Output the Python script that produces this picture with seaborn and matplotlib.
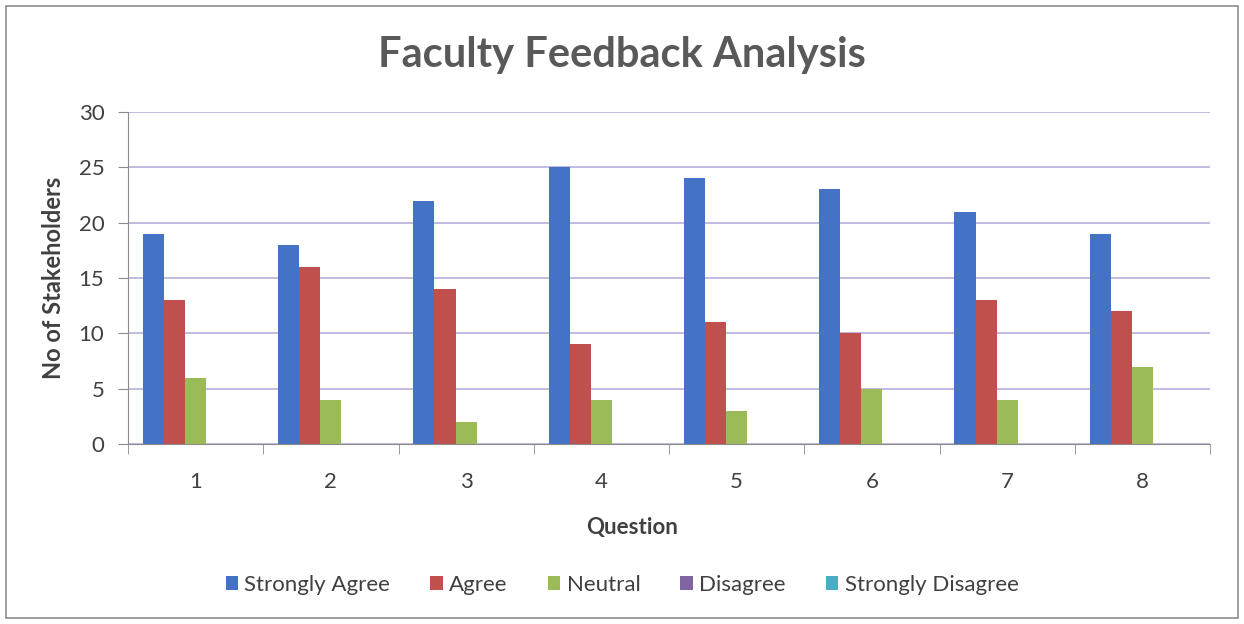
import matplotlib.pyplot as plt
import seaborn as sns
import pandas as pd
import numpy as np

questions = ['1', '2', '3', '4', '5', '6', '7', '8']
strongly_agree = [19, 18, 22, 25, 24, 23, 21, 19]
agree = [13, 16, 14, 9, 11, 10, 13, 12]
neutral = [6, 4, 2, 4, 3, 5, 4, 7]
disagree = [0, 0, 0, 0, 0, 0, 0, 0]
strongly_disagree = [0, 0, 0, 0, 0, 0, 0, 0]

series = ['Strongly Agree', 'Agree', 'Neutral', 'Disagree', 'Strongly Disagree']
colors = ['#4472C4', '#C0504D', '#9BBB59', '#8064A2', '#4BACC6']

rows = []
for name, vals in zip(series, [strongly_agree, agree, neutral, disagree, strongly_disagree]):
    for q, v in zip(questions, vals):
        rows.append({'Question': q, 'Response': name, 'Count': v})
df = pd.DataFrame(rows)

sns.set_style('white')
plt.rcParams['font.family'] = ['Lato', 'DejaVu Sans']

fig = plt.figure(figsize=(12.44, 6.24), dpi=100)
ax = fig.add_axes([0.1029, 0.2885, 0.8698, 0.532])

sns.barplot(data=df, x='Question', y='Count', hue='Response', hue_order=series,
            palette=colors, width=0.78, saturation=1, linewidth=0, ax=ax, legend=True)

ax.set_ylim(0, 30)
ax.set_xlim(-0.5, 7.5)
ax.set_yticks(range(0, 31, 5))
ax.yaxis.grid(True, color='#B8AEDB', lw=1.2)
ax.set_axisbelow(True)
for s in ['top', 'right']:
    ax.spines[s].set_visible(False)
for s in ['left', 'bottom']:
    ax.spines[s].set_color('#8C8C8C')
ax.tick_params(axis='y', labelsize=16, colors='#404040', length=7, color='#8C8C8C', left=True, pad=10)
ax.tick_params(axis='x', labelsize=16, colors='#404040', length=0, pad=20)
ax.set_xticks(np.arange(-0.5, 8, 1), minor=True)
ax.tick_params(axis='x', which='minor', length=7, color='#8C8C8C', bottom=True)

ax.set_ylabel('No of Stakeholders', fontsize=17, fontweight='bold', color='#404040', labelpad=10)
ax.set_xlabel('Question', fontsize=16, fontweight='bold', color='#404040')
ax.xaxis.set_label_coords(0.466, -0.22)
fig.text(0.5, 0.912, 'Faculty Feedback Analysis', ha='center', va='center',
         fontsize=30, fontweight='bold', color='#595959')

handles, labels = ax.get_legend_handles_labels()
ax.legend_.remove()
fig.legend(handles, labels, loc='center', bbox_to_anchor=(0.5, 0.0625), ncol=5,
           frameon=False, fontsize=16, handlelength=0.55, handleheight=0.55,
           handletextpad=0.3, columnspacing=1.8, labelcolor='#404040')

fig.patches.append(plt.Rectangle((0.005, 0.01), 0.99, 0.98, transform=fig.transFigure,
                                 fill=False, edgecolor='#8C8C8C', lw=1.2))

fig.savefig('out.png', dpi=100)
